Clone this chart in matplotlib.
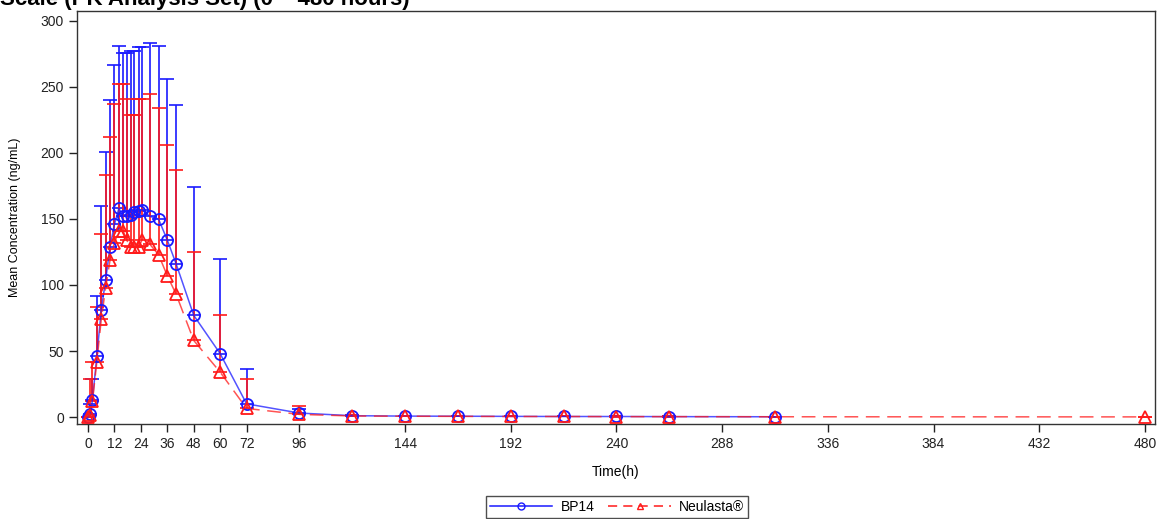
import matplotlib

matplotlib.use("Agg")

import matplotlib.pyplot as plt
import numpy as np

# sampling times (h) and mean / upper-SD values (ng/mL)
bp14_time = [0, 1, 2, 4, 6, 8, 10, 12, 14, 16, 17.5, 19.5, 21, 23, 24.5, 28, 32, 36, 40,
             48, 60, 72, 96, 120, 144, 168, 192, 216, 240, 264, 312]
bp14_mean = [0, 2, 13, 46, 81, 104, 129, 146, 158, 152, 152, 153, 155, 156, 157, 152, 150,
             134, 116, 77, 48, 10, 3, 1.0, 0.7, 0.6, 0.5, 0.4, 0.4, 0.3, 0.2]
bp14_upper = [0, 10, 29, 92, 160, 201, 240, 267, 281, 276, 276, 277, 277, 280, 280, 283, 281,
              256, 236, 174, 120, 36, 6, 1.5, 1.0, 0.8, 0.7, 0.6, 0.5, 0.4, 0.3]

neu_time = [0, 1, 2, 4, 6, 8, 10, 12, 14, 16, 17.5, 19.5, 21, 23, 24.5, 28, 32, 36, 40,
            48, 60, 72, 96, 120, 144, 168, 192, 216, 240, 264, 312, 480]
neu_mean = [0, 1.5, 12, 42, 74, 98, 119, 132, 141, 141, 134, 129, 129, 129, 134, 131, 123,
            107, 93, 58, 34, 6.5, 2, 0.8, 0.6, 0.5, 0.4, 0.4, 0.3, 0.3, 0.2, 0.1]
neu_upper = [0, 29, 42, 83, 139, 183, 212, 237, 252, 252, 241, 229, 229, 241, 241, 245, 234,
             206, 187, 125, 77, 29, 8, 1.2, 0.9, 0.7, 0.6, 0.5, 0.4, 0.4, 0.3, 0.2]

x_ticks = [0, 12, 24, 36, 48, 60, 72, 96, 144, 192, 240, 288, 336, 384, 432, 480]
y_ticks = [0, 50, 100, 150, 200, 250, 300]

BLUE = "#1a1aff"
RED = "#ff1a1a"

plt.rcParams.update({
    "font.family": ["Liberation Sans", "DejaVu Sans"],
    "font.size": 10,
})

fig = plt.figure(figsize=(11.62, 5.19), dpi=100)
ax = fig.add_axes([0.0663, 0.183, 0.9277, 0.796])

bp_err = np.array(bp14_upper) - np.array(bp14_mean)
neu_err = np.array(neu_upper) - np.array(neu_mean)

ax.errorbar(bp14_time, bp14_mean, yerr=[np.zeros_like(bp_err), bp_err], fmt="none",
            ecolor=BLUE, elinewidth=1.2, capsize=4.7, capthick=1.2, zorder=2)
ax.errorbar(neu_time, neu_mean, yerr=[np.zeros_like(neu_err), neu_err], fmt="none",
            ecolor=RED, elinewidth=1.2, capsize=4.7, capthick=1.2, zorder=2)

ax.plot(bp14_time, bp14_mean, color=BLUE, lw=1.1, alpha=0.75, zorder=3)
ax.plot(bp14_time, bp14_mean, ls="none", marker="o", ms=8, mfc="none", mec=BLUE,
        mew=1.3, zorder=4, label="BP14")
ax.plot(neu_time, neu_mean, color=RED, lw=1.1, alpha=0.75, dashes=(9, 5), zorder=3)
ax.plot(neu_time, neu_mean, ls="none", marker="^", ms=8, mfc="none", mec=RED,
        mew=1.3, zorder=4, label="Neulasta®")

ax.set_xlim(-5, 484.6)
ax.set_ylim(-5.3, 307.6)
ax.set_xticks(x_ticks)
ax.set_yticks(y_ticks)
ax.tick_params(direction="out", length=6, width=1, labelsize=10, colors="#222222")
for sp in ax.spines.values():
    sp.set_color("#333333")
    sp.set_linewidth(1.0)

ax.set_xlabel("Time(h)", fontsize=10, labelpad=10)
ax.set_ylabel("Mean Concentration (ng/mL)", fontsize=9, labelpad=14)

# legend handles combine line and marker
h1, = ax.plot([], [], color=BLUE, lw=1.1, marker="o", ms=5, mfc="none", mec=BLUE)
h2, = ax.plot([], [], color=RED, lw=1.1, dashes=(6, 4), marker="^", ms=5, mfc="none", mec=RED)
leg = fig.legend([h1, h2], ["BP14", "Neulasta®"], loc="lower center",
                 bbox_to_anchor=(0.531, -0.012), ncol=2, frameon=True, fancybox=False,
                 fontsize=10, handlelength=4.5, columnspacing=1.0, borderpad=0.3,
                 handletextpad=0.6)
leg.get_frame().set_edgecolor("#222222")
leg.get_frame().set_linewidth(1.0)

fig.text(0.0, 1 - 5 / 519, "Scale (PK Analysis Set) (0 – 480 hours)", fontsize=16,
         fontweight="bold", ha="left", va="baseline")

fig.savefig("out.png", dpi=100)
